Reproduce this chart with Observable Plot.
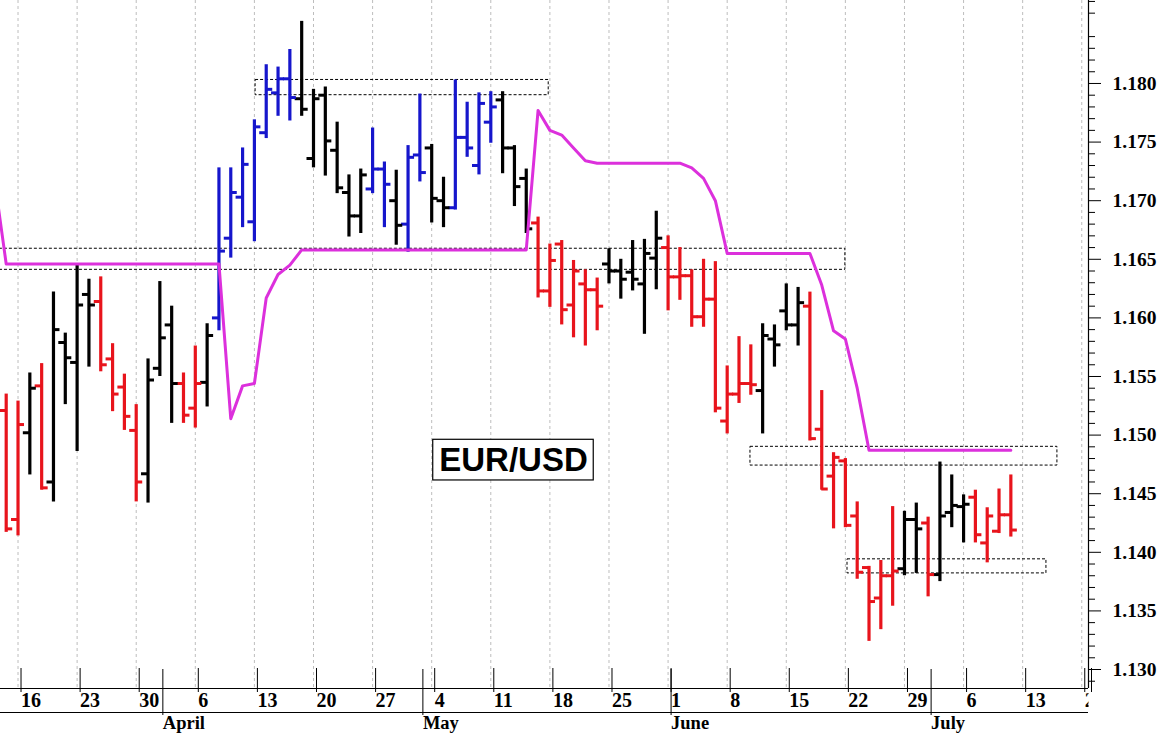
<!DOCTYPE html>
<html><head><meta charset="utf-8">
<script src="https://cdn.jsdelivr.net/npm/d3@7"></script>
<script src="https://cdn.jsdelivr.net/npm/@observablehq/plot@0.6"></script>
<style>body{margin:0;background:#fff}#chart svg{display:block}</style>
</head><body><div id="chart"></div>
<script>
// Trading days (index 0 = Fri 13 March 2026 ... index 85 = Fri 10 July 2026)
const open = [1.1521,1.1428,1.1502,1.1542,1.1460,1.1579,1.1562,1.1620,1.1614,1.1565,
1.1541,1.1504,1.1467,1.1557,1.1594,1.1544,1.1523,1.1545,1.1600,1.1668,
1.1703,1.1682,1.1758,1.1792,1.1804,1.1787,1.1736,1.1790,1.1743,1.1707,
1.1687,1.1710,1.1727,1.1700,1.1680,1.1739,1.1745,1.1700,1.1694,1.1754,
1.1730,1.1767,1.1786,1.1745,1.1719,1.1681,1.1623,1.1663,1.1611,1.1629,
1.1624,1.1646,1.1640,1.1639,1.1629,1.1651,1.1660,1.1635,1.1636,1.1601,
1.1616,1.1512,1.1535,1.1544,1.1538,1.1582,1.1606,1.1594,1.1610,1.1505,
1.1465,1.1478,1.1431,1.1387,1.1361,1.1380,1.1386,1.1428,1.1425,1.1381,
1.1434,1.1439,1.1447,1.1408,1.1418,1.1432];
const high = [1.1535,1.1529,1.1553,1.1561,1.1622,1.1587,1.1645,1.1633,1.1635,1.1578,
1.1552,1.1526,1.1565,1.1631,1.1610,1.1553,1.1576,1.1595,1.1728,1.1728,
1.1745,1.1769,1.1816,1.1814,1.1829,1.1853,1.1795,1.1797,1.1767,1.1722,
1.1727,1.1762,1.1733,1.1726,1.1747,1.1791,1.1748,1.1720,1.1803,1.1784,
1.1792,1.1793,1.1793,1.1747,1.1727,1.1686,1.1663,1.1666,1.1649,1.1641,
1.1634,1.1659,1.1650,1.1666,1.1667,1.1691,1.1670,1.1660,1.1641,1.1650,
1.1648,1.1559,1.1584,1.1577,1.1595,1.1594,1.1629,1.1626,1.1622,1.1538,
1.1485,1.1480,1.1443,1.1388,1.1393,1.1439,1.1435,1.1442,1.1430,1.1477,
1.1466,1.1449,1.1453,1.1438,1.1454,1.1466];
const low = [1.1417,1.1414,1.1466,1.1453,1.1443,1.1526,1.1486,1.1558,1.1554,1.1520,
1.1504,1.1443,1.1442,1.1550,1.1510,1.1510,1.1506,1.1524,1.1589,1.1651,
1.1677,1.1665,1.1753,1.1772,1.1768,1.1772,1.1728,1.1721,1.1706,1.1669,
1.1672,1.1706,1.1677,1.1662,1.1656,1.1716,1.1681,1.1677,1.1692,1.1737,
1.1722,1.1749,1.1723,1.1695,1.1672,1.1617,1.1609,1.1594,1.1583,1.1576,
1.1589,1.1629,1.1616,1.1623,1.1586,1.1624,1.1606,1.1615,1.1592,1.1592,
1.1519,1.1501,1.1527,1.1534,1.1501,1.1558,1.1589,1.1576,1.1495,1.1453,
1.1420,1.1421,1.1377,1.1324,1.1334,1.1354,1.1380,1.1382,1.1362,1.1375,
1.1421,1.1408,1.1408,1.1391,1.1416,1.1413];
const close = [1.1420,1.1509,1.1540,1.1455,1.1590,1.1566,1.1611,1.1611,1.1560,1.1535,
1.1516,1.1460,1.1547,1.1583,1.1544,1.1517,1.1544,1.1585,1.1657,1.1707,
1.1731,1.1763,1.1795,1.1804,1.1788,1.1778,1.1787,1.1751,1.1711,1.1687,
1.1722,1.1727,1.1714,1.1679,1.1737,1.1724,1.1702,1.1694,1.1754,1.1745,
1.1783,1.1780,1.1745,1.1712,1.1676,1.1623,1.1649,1.1607,1.1640,1.1624,
1.1610,1.1640,1.1633,1.1633,1.1655,1.1668,1.1635,1.1636,1.1601,1.1616,
1.1523,1.1535,1.1544,1.1543,1.1585,1.1577,1.1594,1.1613,1.1497,1.1454,
1.1481,1.1423,1.1383,1.1358,1.1380,1.1384,1.1428,1.1420,1.1381,1.1431,
1.1440,1.1441,1.1415,1.1431,1.1432,1.1419];
// bar colour code per day: r = red, k = black, b = blue
const barColor = "rrkrkkkkrr" + "rrkkkrrkbb" + "bbbbbkkkkk" + "kbbkbbkkbb" + "bbkkkrrrrr" +
                 "rkkkkkrrrr" + "rrrrkkkkrr" + "rrrrrrkkrk" + "kkrrrr";
// magenta trailing line, day index -1 .. 85
const trailStart = -1;
const trail = [1.1719,
1.1646,1.1646,1.1646,1.1646,1.1646,1.1646,1.1646,1.1646,1.1646,1.1646,
1.1646,1.1646,1.1646,1.1646,1.1646,1.1646,1.1646,1.1646,1.1646,
1.1514,1.1542,1.1544,1.1617,1.1637,1.1645,
1.1658,1.1658,1.1658,1.1658,1.1658,1.1658,1.1658,1.1658,1.1658,1.1658,
1.1658,1.1658,1.1658,1.1658,1.1658,1.1658,1.1658,1.1658,1.1658,1.1658,
1.1777,1.1760,1.1756,1.1745,1.1734,
1.1732,1.1732,1.1732,1.1732,1.1732,1.1732,1.1732,1.1732,
1.1728,1.1719,1.1700,
1.1655,1.1655,1.1655,1.1655,1.1655,1.1655,1.1655,1.1655,
1.1628,1.1589,1.1582,1.1540,
1.1487,1.1487,1.1487,1.1487,1.1487,1.1487,1.1487,1.1487,1.1487,1.1487,1.1487,1.1487,1.1487];
// dotted zones (day index range, price range)
const zoneFrom = [21.1, -1.0, 62.97, 71.18];
const zoneTo   = [45.9, 71.0, 88.94, 88.01];
const zoneTop  = [1.1803, 1.1659, 1.1490, 1.1394];
const zoneBot  = [1.1790, 1.1641, 1.1474, 1.1382];
// title box
const titleText = "EUR/USD";
const titleBox = {x1: 36.13, x2: 49.71, y1: 1.14613, y2: 1.14960};
// axis ticks & labels
const weekIdx = [1,6,11,16,21,26,31,36,41,46,51,56,61,66,71,76,81,86,91];
const weekLabels = ["16","23","30","6","13","20","27","4","11","18","25","1","8","15","22","29","6","13","20"];
const monthIdx = [13,35,56,78];
const monthLabels = ["April","May","June","July"];
const yMajor = [1.130,1.135,1.140,1.145,1.150,1.155,1.160,1.165,1.170,1.175,1.180];
const yMinor = d3.range(1129,1188).filter(v => v % 5 !== 0).map(v => v/1000);

const xMin = -0.482, xMax = 91.57, yMin = 1.12838, yMax = 1.18708;
const colors = {r: "#e8141c", k: "#000000", b: "#1616cc"};

const bars = open.map((o, i) => ({i, o, h: high[i], l: low[i], c: close[i], col: colors[barColor[i]]}));
const trailData = trail.map((v, k) => ({i: trailStart + k, v}));
const zones = zoneFrom.map((x1, k) => ({x1, x2: zoneTo[k], y1: zoneBot[k], y2: zoneTop[k]}));
const weekMap = new Map(weekIdx.map((d, k) => [d, weekLabels[k]]));
const monthMap = new Map(monthIdx.map((d, k) => [d, monthLabels[k]]));
const serif = "'Liberation Serif','Times New Roman',serif";

const chart = Plot.plot({
  width: 1159, height: 734,
  marginTop: 0, marginBottom: 46, marginLeft: 0, marginRight: 71,
  x: {type: "linear", domain: [xMin, xMax]},
  y: {type: "linear", domain: [yMin, yMax]},
  style: {background: "white", fontFamily: serif, overflow: "visible"},
  marks: [
    Plot.ruleX(weekIdx, {stroke: "#bdbdbd", strokeDasharray: "3,3", strokeWidth: 1}),
    Plot.rect(zones, {x1: "x1", x2: "x2", y1: "y1", y2: "y2", fill: "none", stroke: "black", strokeWidth: 1, strokeDasharray: "3,2", clip: true}),
    Plot.ruleX(bars, {x: "i", y1: "l", y2: "h", stroke: "col", strokeWidth: 3.2}),
    Plot.ruleY(bars, {y: "o", x1: d => d.i - 0.55, x2: "i", stroke: "col", strokeWidth: 3}),
    Plot.ruleY(bars, {y: "c", x1: "i", x2: d => d.i + 0.55, stroke: "col", strokeWidth: 3}),
    Plot.line(trailData, {x: "i", y: "v", stroke: "#dc30dc", strokeWidth: 3, clip: true}),
    Plot.rect([titleBox], {x1: "x1", x2: "x2", y1: "y1", y2: "y2", fill: "white", stroke: "black", strokeWidth: 1.2}),
    Plot.text([titleBox], {x: d => (d.x1 + d.x2) / 2, y: d => (d.y1 + d.y2) / 2, text: () => titleText,
      fontFamily: "'Liberation Sans',Arial,sans-serif", fontWeight: "bold", fontSize: 33, fill: "black"}),
    Plot.ruleY([yMin], {stroke: "black", strokeWidth: 1.2}),
    Plot.ruleY([yMin], {stroke: "black", strokeWidth: 1.2, dy: 24}),
    Plot.ruleX([xMax], {stroke: "black", strokeWidth: 1.2}),
    Plot.axisY(yMajor, {anchor: "right", tickSize: 12, tickPadding: 12, tickFormat: d3.format(".3f"),
      fontSize: 19.5, fontWeight: "bold", fontFamily: serif, label: null}),
    Plot.axisY(yMinor, {anchor: "right", tickSize: 6, tickFormat: () => "", label: null}),
    Plot.axisX(weekIdx.concat([xMax]), {anchor: "bottom", tickSize: 24, tickPadding: 0,
      tickFormat: d => weekMap.get(d) ?? "", textAnchor: "start", dx: 3, dy: -20,
      fontSize: 20, fontWeight: "bold", fontFamily: serif, label: null}),
    Plot.axisX(monthIdx, {anchor: "bottom", tickSize: 46, tickPadding: 0,
      tickFormat: d => monthMap.get(d) ?? "", textAnchor: "start", dx: 3, dy: -19,
      fontSize: 18.5, fontWeight: "bold", fontFamily: serif, label: null})
  ]
});
document.getElementById("chart").appendChild(chart);

// clip the bottom labels at the right axis line
const NS = "http://www.w3.org/2000/svg";
const defs = document.createElementNS(NS, "defs");
const cp = document.createElementNS(NS, "clipPath"); cp.setAttribute("id", "xlabclip");
const cr = document.createElementNS(NS, "rect");
cr.setAttribute("x", 0); cr.setAttribute("y", 0);
cr.setAttribute("width", chart.getAttribute("width") - 71 + 0.5); cr.setAttribute("height", 734);
cp.appendChild(cr); defs.appendChild(cp); chart.insertBefore(defs, chart.firstChild);
chart.querySelectorAll('g[aria-label="x-axis tick label"]').forEach(g => {
  const w = document.createElementNS(NS, "g");
  w.setAttribute("clip-path", "url(#xlabclip)");
  g.parentNode.insertBefore(w, g); w.appendChild(g);
});
</script>
</body></html>
